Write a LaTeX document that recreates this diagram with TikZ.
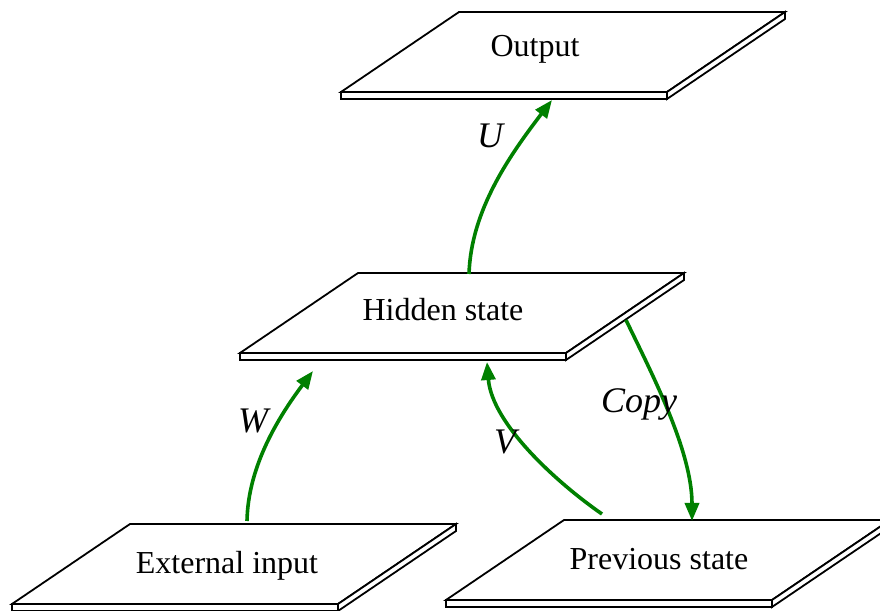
\documentclass[tikz,border=0pt]{standalone}
\usepackage{fontspec}
\setmainfont{Liberation Serif}
\usetikzlibrary{arrows.meta}
\definecolor{flowgreen}{RGB}{0,128,0}
\tikzset{
  plateface/.style={draw=black, fill=white, line width=1.8pt, line join=miter},
  flow/.style={draw=flowgreen, line width=3.6pt, -{Triangle[length=18pt,width=14pt]}},
  caption/.style={anchor=base, inner sep=0pt, font=\fontsize{32}{38}\selectfont},
  weight/.style={anchor=base, inner sep=0pt, font=\fontsize{36}{42}\selectfont\itshape},
  % a thin slab seen in perspective, origin at its front lower-left corner
  slab/.pic={
    \path[plateface] (0,0) -- (326,0) -- (444,80) -- (118,80) -- cycle;
    \path[plateface] (0,0) -- (326,0) -- (326,-7) -- (0,-7) -- cycle;
    \path[plateface] (326,0) -- (444,80) -- (444,73) -- (326,-7) -- cycle;
  }
}
\begin{document}
\begin{tikzpicture}[x=1pt,y=1pt]
  \clip (0,0) rectangle (880,610);

  % layers
  \pic at (341,518) {slab};
  \pic at (240,257) {slab};
  \pic at (12,6)    {slab};
  \pic at (446,10)  {slab};

  \node[caption] (output)   at (535,553) {Output};
  \node[caption] (hidden)   at (443,289) {Hidden state};
  \node[caption] (external) at (227,37)  {External input};
  \node[caption] (previous) at (659,41)  {Previous state};

  % connector end points on the slab edges
  \coordinate (hidTop)   at (469,336);
  \coordinate (outBot)   at (552,510);
  \coordinate (extTop)   at (247,89);
  \coordinate (hidBotL)  at (313,239);
  \coordinate (prevTopL) at (602,96);
  \coordinate (hidBotM)  at (487,248);
  \coordinate (hidSide)  at (626,290);
  \coordinate (prevTopR) at (692,89);

  % weighted connections
  \draw[flow] (hidTop) .. controls (471,400) and (510,455) .. (outBot);
  \draw[flow] (extTop) .. controls (248,145) and (280,195) .. (hidBotL);
  \draw[flow] (prevTopL) .. controls (560,125) and (492,185) .. (hidBotM);
  \draw[flow] (hidSide) .. controls (650,240) and (692,160) .. (prevTopR);

  \node[weight] (lblU)    at (490,462) {U};
  \node[weight] (lblW)    at (253,177) {W};
  \node[weight] (lblV)    at (505,156) {V};
  \node[weight] (lblCopy) at (639,197) {Copy};
\end{tikzpicture}
\end{document}
